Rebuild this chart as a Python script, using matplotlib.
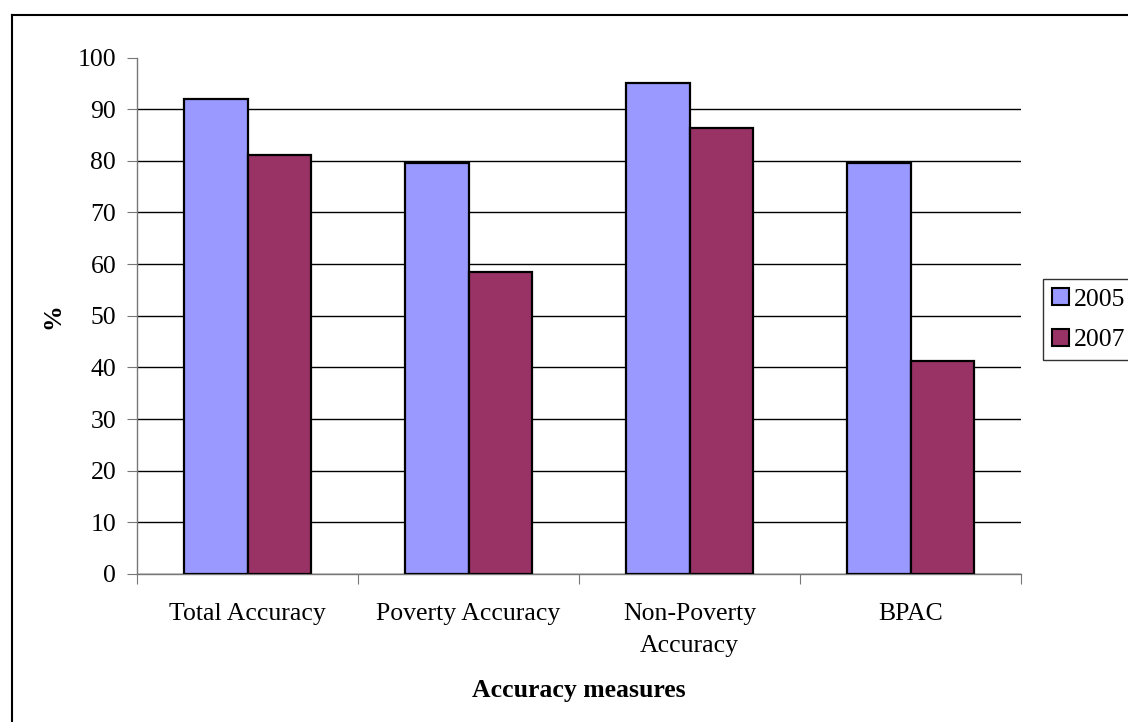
import numpy as np
import matplotlib
matplotlib.use("Agg")
import matplotlib.pyplot as plt
from matplotlib.lines import Line2D

# Accuracy of the poverty targeting tool, by survey year
categories = ["Total Accuracy", "Poverty Accuracy", "Non-Poverty\nAccuracy", "BPAC"]
years = ["2005", "2007"]
acc_2005 = [92.0, 79.6, 95.0, 79.6]
acc_2007 = [81.1, 58.4, 86.4, 41.3]
y_ticks = list(range(0, 101, 10))

colors = ["#9999FF", "#993366"]

plt.rcParams["font.family"] = ["Liberation Serif", "DejaVu Serif"]

W, H = 1128, 722
fig = plt.figure(figsize=(W / 100, H / 100), dpi=100)
ax = fig.add_axes([137 / W, 1 - 574 / H, (1021 - 137) / W, (574 - 57.5) / H])

n = len(categories)
x = np.arange(n)
bw = 1 / 3.5
for i, (vals, col, lab) in enumerate(zip([acc_2005, acc_2007], colors, years)):
    ax.bar(x + (i - 0.5) * bw, vals, width=bw, color=col, edgecolor="black",
           linewidth=1.6, label=lab, zorder=3)

ax.set_xlim(-0.5, n - 0.5)
ax.set_ylim(0, 100)
ax.set_yticks(y_ticks)
ax.set_yticklabels([str(t) for t in y_ticks], fontsize=18.5)
ax.yaxis.grid(True, color="black", linewidth=1.0, zorder=0)
ax.set_axisbelow(True)
# no gridline along the top of the plot area
ax.yaxis.get_gridlines()[-1].set_visible(False)

# category labels centred under each group, ticks at group boundaries
ax.set_xticks(np.arange(-0.5, n, 1.0))
ax.set_xticklabels([""] * (n + 1))
ax.set_xticks(x, minor=True)
ax.set_xticklabels(categories, minor=True, fontsize=18.5, linespacing=1.55)
ax.tick_params(axis="x", which="minor", length=0, pad=21)
ax.tick_params(axis="x", which="major", length=7, color="#777777", direction="out")
ax.tick_params(axis="y", length=7, color="#777777", direction="out", pad=8)

for side in ["top", "right"]:
    ax.spines[side].set_visible(False)
for side in ["left", "bottom"]:
    ax.spines[side].set_color("#777777")
    ax.spines[side].set_linewidth(1.0)

fig.text(579 / W, 1 - 690 / H, "Accuracy measures", ha="center", va="center",
         fontsize=18.5, fontweight="bold")
fig.text(53 / W, 1 - 316 / H, "%", ha="center", va="center", rotation=90,
         fontsize=18.5, fontweight="bold")

# legend box at the right edge
handles = [plt.Rectangle((0, 0), 1, 1, facecolor=c, edgecolor="black", linewidth=1.5)
           for c in colors]
leg = fig.legend(handles, years, loc="upper left",
                 bbox_to_anchor=(1043 / W, 1 - 279 / H), fontsize=18.5,
                 frameon=True, fancybox=False, edgecolor="black",
                 handlelength=0.65, handleheight=0.65, handletextpad=0.2,
                 borderpad=0.35, labelspacing=0.7, borderaxespad=0)
leg.get_frame().set_linewidth(1.0)

# outer chart frame (top and left edges)
fig.add_artist(Line2D([11.5 / W, 1.0], [1 - 14.5 / H, 1 - 14.5 / H],
                      transform=fig.transFigure, color="black", linewidth=1.5))
fig.add_artist(Line2D([11.5 / W, 11.5 / W], [0.0, 1 - 14.5 / H],
                      transform=fig.transFigure, color="black", linewidth=1.5))

fig.savefig("out.png", dpi=100, facecolor="white")
